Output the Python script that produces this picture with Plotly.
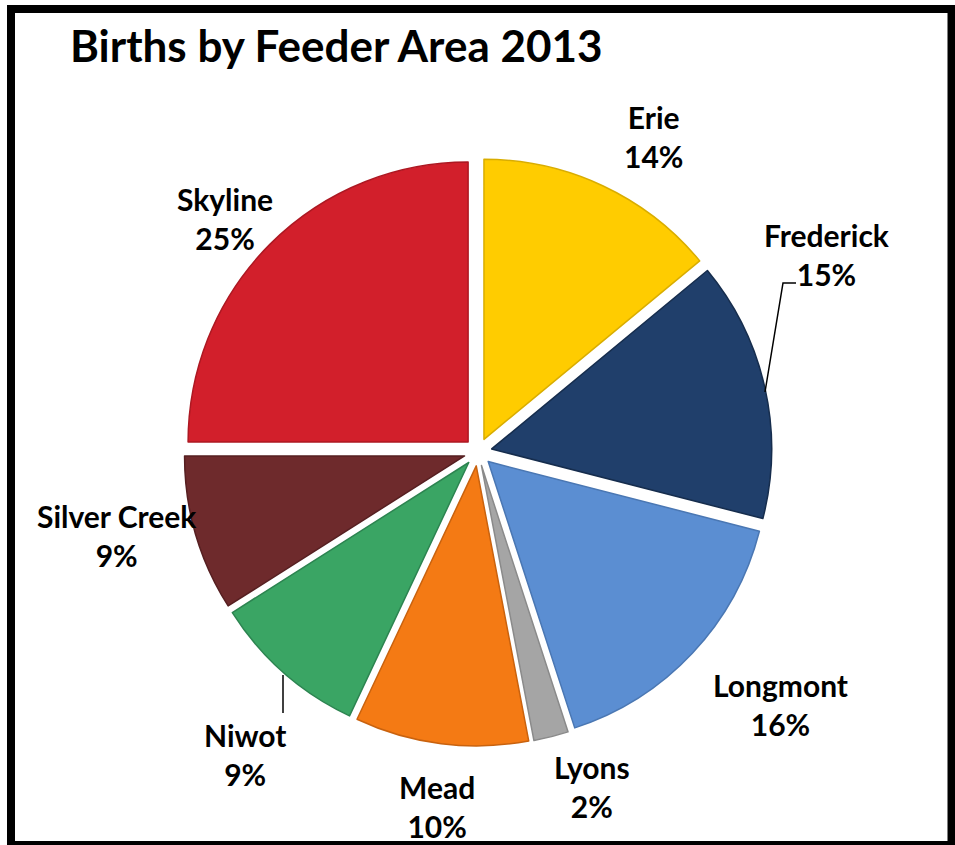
import plotly.graph_objects as go

# ---- data ----
areas = ["Erie", "Frederick", "Longmont", "Lyons", "Mead", "Niwot", "Silver Creek", "Skyline"]
shares = [14, 15, 16, 2, 10, 9, 9, 25]
title_text = "Births by Feeder Area 2013"

# ---- styles ----
colors = ["#FFCC00", "#203F6B", "#5B8ED2", "#A5A5A5", "#F47A14", "#3AA564", "#6E2A2C", "#D21F2B"]
edge_colors = ["#D9AD00", "#162D4D", "#4A77B3", "#8A8A8A", "#C9620E", "#2C8450", "#561F21", "#AD1822"]

W, H = 955, 845
def px(x):
    return x / W
def py(y):
    return 1 - y / H

# label positions (pixel centers)
label_pos = {
    "Erie": (653, 137),
    "Frederick": (827, 254),
    "Longmont": (780, 704),
    "Lyons": (592, 786),
    "Mead": (437, 806),
    "Niwot": (245, 754),
    "Silver Creek": (117, 535),
    "Skyline": (225, 218),
}

cx, cy, r, pull = 478, 452, 280, 0.05
half = r * (1 + pull)

fig = go.Figure(go.Pie(
    labels=areas,
    values=shares,
    sort=False,
    direction="clockwise",
    rotation=0,
    pull=[pull] * len(areas),
    marker=dict(colors=colors, line=dict(color=edge_colors, width=1.5)),
    textinfo="none",
    hoverinfo="label+percent",
    domain=dict(x=[px(cx - half), px(cx + half)], y=[py(cy + half), py(cy - half)]),
    showlegend=False,
))

annotations = [dict(
    x=px(68), y=py(45), xref="paper", yref="paper", xanchor="left", yanchor="middle",
    text="<b>%s</b>" % title_text, showarrow=False,
    font=dict(family="Lato", size=44, color="#000000"),
)]
for name, val in zip(areas, shares):
    x, y = label_pos[name]
    annotations.append(dict(
        x=px(x), y=py(y), xref="paper", yref="paper", xanchor="center", yanchor="middle",
        text="<b>%s<br>%d%%</b>" % (name, val), showarrow=False,
        font=dict(family="Lato", size=30, color="#000000"),
    ))

shapes = [
    # outer border
    dict(type="rect", xref="paper", yref="paper", x0=px(11), x1=px(951.5), y0=py(845), y1=py(9),
         line=dict(color="#000000", width=8), fillcolor="rgba(0,0,0,0)"),
    # leader lines
    dict(type="path", xref="paper", yref="paper",
         path="M %f,%f L %f,%f L %f,%f" % (px(765), py(392), px(783), py(283), px(796), py(283)),
         line=dict(color="#000000", width=1.5)),
    dict(type="line", xref="paper", yref="paper", x0=px(283), x1=px(283), y0=py(675), y1=py(713),
         line=dict(color="#000000", width=1.5)),
]

fig.update_layout(
    width=W, height=H,
    margin=dict(l=0, r=0, t=0, b=0),
    paper_bgcolor="#FFFFFF",
    plot_bgcolor="#FFFFFF",
    annotations=annotations,
    shapes=shapes,
)

fig.write_html(
    "out.html",
    config={"displayModeBar": False},
    post_script="document.body.style.margin='0';document.body.style.overflow='hidden';",
)
